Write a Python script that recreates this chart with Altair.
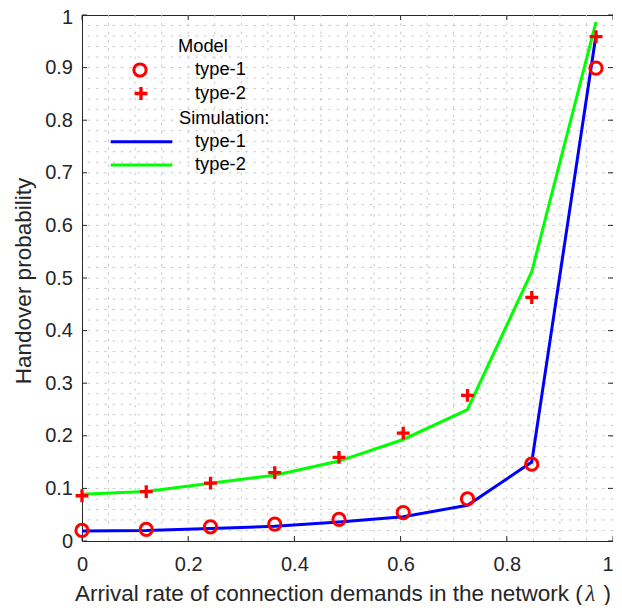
import altair as alt
import pandas as pd

# ---------------- data ----------------
lam = [0.0, 0.121, 0.242, 0.363, 0.484, 0.605, 0.726, 0.847, 0.968]
model_type1 = [0.020, 0.022, 0.027, 0.032, 0.041, 0.054, 0.080, 0.146, 0.899]
model_type2 = [0.086, 0.094, 0.110, 0.130, 0.159, 0.205, 0.277, 0.463, 0.959]
sim_type1 = [0.019, 0.020, 0.024, 0.028, 0.036, 0.046, 0.068, 0.150, 0.962]
sim_type2 = [0.089, 0.094, 0.110, 0.125, 0.152, 0.193, 0.250, 0.512, 0.987]

x_ticks = [0, 0.2, 0.4, 0.6, 0.8, 1.0]
y_ticks = [0, 0.1, 0.2, 0.3, 0.4, 0.5, 0.6, 0.7, 0.8, 0.9, 1.0]
x_grid = [round(0.05 * i, 2) for i in range(1, 20)]
y_grid = [round(0.02 * i, 2) for i in range(1, 50)]

x_title_main = "Arrival rate of connection demands in the network ("
x_title_sym = "λ"
x_title_end = ")"
y_title = "Handover probability"
legend_head_model = "Model"
legend_head_sim = "Simulation:"
legend_labels = ["type-1", "type-2"]

W, H = 531, 526
FONT = "Liberation Sans"
AX = "#262626"
TFS = 22.5   # axis title font size
LFS = 18.3   # legend font size

xs = alt.Scale(domain=[0, 1], nice=False, zero=False)
ys = alt.Scale(domain=[0, 1], nice=False, zero=False)

XAX = alt.Axis(values=x_ticks, format="~g", ticks=False, domain=False,
               grid=False, labelFont=FONT, labelFontSize=20,
               labelColor=AX, labelPadding=13.5, labelFlush=False,
               labelAlign={"expr": "datum.value >= 1 ? 'right' : 'center'"},
               labelOverlap=False, title=None)
YAX = alt.Axis(values=y_ticks, format="~g", ticks=False, domain=False,
               grid=False, labelFont=FONT, labelFontSize=20,
               labelColor=AX, labelPadding=9.5, labelFlush=False,
               labelOffset={"expr": "datum.value >= 1 ? 2 : 0"},
               labelOverlap=False, title=None)


def X(f):
    return alt.X(f, scale=xs, axis=XAX)


def Y(f):
    return alt.Y(f, scale=ys, axis=YAX)


df = pd.DataFrame({"lam": lam, "m1": model_type1, "m2": model_type2,
                   "s1": sim_type1, "s2": sim_type2})

# grid (dotted)
gx = alt.Chart(pd.DataFrame({"g": x_grid})).mark_rule(
    color="#c8c8c8", strokeWidth=1, strokeDash=[2.5, 5.8]
).encode(x=X("g:Q"))
gy = alt.Chart(pd.DataFrame({"g": y_grid})).mark_rule(
    color="#c8c8c8", strokeWidth=1, strokeDash=[2.5, 5.8]
).encode(y=Y("g:Q"))

# inward ticks on all four sides
tdx = pd.DataFrame({"t": x_ticks})
tdy = pd.DataFrame({"t": y_ticks})
tick_b = alt.Chart(tdx).mark_rule(color=AX).encode(
    x=X("t:Q"), y=alt.value(H), y2=alt.value(H - 5))
tick_t = alt.Chart(tdx).mark_rule(color=AX).encode(
    x=X("t:Q"), y=alt.value(0), y2=alt.value(5))
tick_l = alt.Chart(tdy).mark_rule(color=AX).encode(
    y=Y("t:Q"), x=alt.value(0), x2=alt.value(5))
tick_r = alt.Chart(tdy).mark_rule(color=AX).encode(
    y=Y("t:Q"), x=alt.value(W), x2=alt.value(W - 5))

# simulation lines
l1 = alt.Chart(df).mark_line(color="#0000ff", strokeWidth=3).encode(x=X("lam:Q"), y=Y("s1:Q"))
l2 = alt.Chart(df).mark_line(color="#00ff00", strokeWidth=3).encode(x=X("lam:Q"), y=Y("s2:Q"))

PLUS = "M-1,0H1M0,-1V1"
CSIZE, PSIZE = 150, 165
# model markers
p1 = alt.Chart(df).mark_point(shape="circle", filled=False, color="#ff0000",
                              strokeWidth=3, size=CSIZE, opacity=1).encode(
    x=X("lam:Q"), y=Y("m1:Q"))
p2 = alt.Chart(df).mark_point(shape=PLUS, filled=False, color="#ff0000",
                              strokeWidth=3.3, size=PSIZE, opacity=1).encode(
    x=X("lam:Q"), y=Y("m2:Q"))

one = pd.DataFrame({"a": [0]})


def txt(t, x, y, size, font=FONT, color=AX, align="left", baseline="middle",
        angle=0, style="normal"):
    return alt.Chart(one).mark_text(text=t, font=font, fontSize=size, color=color,
                                    align=align, baseline=baseline, angle=angle,
                                    fontStyle=style).encode(
        x=alt.value(x), y=alt.value(y))


# axis titles
TY = 585.5
titles = [
    txt(x_title_main, -7, TY, TFS, baseline="alphabetic"),
    txt(x_title_sym, 503.5, TY, TFS, font="Liberation Serif", baseline="alphabetic",
        style="italic"),
    txt(x_title_end, 521.5, TY, TFS, baseline="alphabetic"),
    txt(y_title, -51, 266, TFS, align="center", baseline="alphabetic", angle=270),
]

# legend (inside the plot, top-left, no box)
leg = [
    txt(legend_head_model, 96, 32, LFS, color="#000000"),
    alt.Chart(one).mark_point(shape="circle", filled=False, color="#ff0000",
                              strokeWidth=3, size=CSIZE, opacity=1).encode(
        x=alt.value(58), y=alt.value(55)),
    txt(legend_labels[0], 113, 55, LFS, color="#000000"),
    alt.Chart(one).mark_point(shape=PLUS, filled=False, color="#ff0000",
                              strokeWidth=3.3, size=PSIZE, opacity=1).encode(
        x=alt.value(59), y=alt.value(78.5)),
    txt(legend_labels[1], 113, 78.5, LFS, color="#000000"),
    txt(legend_head_sim, 97, 104, LFS, color="#000000"),
    alt.Chart(one).mark_rule(color="#0000ff", strokeWidth=3).encode(
        x=alt.value(28.7), x2=alt.value(90.3), y=alt.value(126.7)),
    txt(legend_labels[0], 113, 126.7, LFS, color="#000000"),
    alt.Chart(one).mark_rule(color="#00ff00", strokeWidth=3).encode(
        x=alt.value(28.7), x2=alt.value(90.3), y=alt.value(150)),
    txt(legend_labels[1], 113, 150, LFS, color="#000000"),
]

chart = alt.layer(gx, gy, tick_b, tick_t, tick_l, tick_r, l1, l2, p1, p2,
                  *titles, *leg).properties(
    width=W, height=H,
    autosize=alt.AutoSizeParams(type="none"),
    padding={"left": 74, "top": 7, "right": 0, "bottom": 64},
    background="#ffffff",
).configure_view(stroke=AX, strokeWidth=1)

chart.save("out.html", embed_options={"renderer": "svg", "actions": False})
